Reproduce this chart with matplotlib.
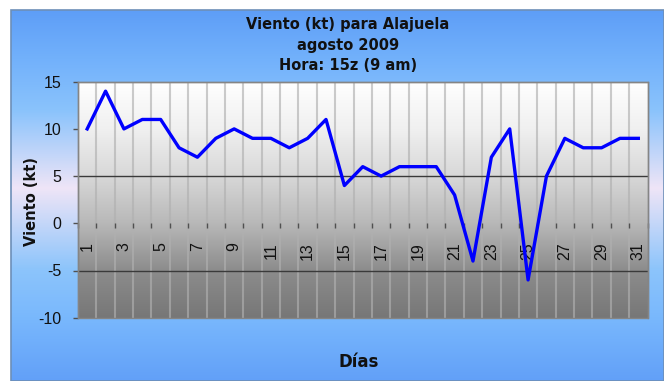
import numpy as np
import matplotlib
matplotlib.use("Agg")
import matplotlib.pyplot as plt
from matplotlib.colors import LinearSegmentedColormap
from matplotlib.patches import Rectangle

plt.rcParams["font.family"] = ["Liberation Sans", "DejaVu Sans"]

# Wind speed (kt) at 15z for each day of August 2009, Alajuela
days = list(range(1, 32))
wind = [10, 14, 10, 11, 11, 8, 7, 9, 10, 9, 9, 8, 9, 11, 4, 6, 5, 6, 6, 6,
        3, -4, 7, 10, -6, 5, 9, 8, 8, 9, 9]
day_labels = [str(d) for d in days if d % 2 == 1]
label_days = [d for d in days if d % 2 == 1]
y_ticks = [-10, -5, 0, 5, 10, 15]
title_lines = ["Viento (kt) para Alajuela", "agosto 2009", "Hora: 15z (9 am)"]

W, H = 664, 381
fig = plt.figure(figsize=(W / 100, H / 100), dpi=100)
fig.patch.set_facecolor("white")

# Chart-area background: vertical blue gradient, lighter in the middle
bg = fig.add_axes([11 / W, 0, 1 - 11 / W, (H - 10) / H])
bg_cmap = LinearSegmentedColormap.from_list(
    "chartbg",
    [(0.0, "#5e9ef7"), (0.13, "#72b1fb"), (0.27, "#8ac3fc"),
     (0.48, "#efe5f7"), (0.70, "#8cc4fb"), (0.83, "#79b8fd"), (1.0, "#62a0f8")])
grad = np.linspace(0, 1, 256).reshape(-1, 1)
bg.imshow(grad, cmap=bg_cmap, aspect="auto", extent=(0, 1, 0, 1), origin="upper")
bg.set_xlim(0, 1)
bg.set_ylim(0, 1)
bg.axis("off")
bg.add_patch(Rectangle((0, 0), 1, 1, transform=bg.transAxes, fill=False,
                       edgecolor="#6d8fb8", lw=1.2, clip_on=False))

# Plot area
left, right, top, bottom = 78, 647.5, 81.7, 317.7
ax = fig.add_axes([left / W, 1 - bottom / H, (right - left) / W, (bottom - top) / H])
ax.set_xlim(0.5, 31.5)
ax.set_ylim(-10, 15)

plot_cmap = LinearSegmentedColormap.from_list(
    "plotbg",
    [(0.0, "#ffffff"), (0.2, "#f0f0f0"), (0.4, "#d8d8d8"), (0.6, "#b8b8b8"),
     (0.8, "#8c8c8c"), (1.0, "#777777")])
ax.imshow(grad, cmap=plot_cmap, aspect="auto", extent=(0.5, 31.5, -10, 15),
          origin="upper", zorder=0)

# Vertical separators between days
bounds = np.arange(1.5, 31.5, 1.0)
ax.vlines(bounds, -10, 15, colors="#b0b0b0", lw=1.5, alpha=0.65, zorder=1)

# Horizontal gridlines
for yv in (5, -5):
    ax.axhline(yv, color="#3a3a3a", lw=1.0, zorder=2)

ax.plot(days, wind, color="#0000ff", lw=2.4, zorder=5, solid_joinstyle="round")

# Axes styling
for side in ("left", "top", "right"):
    ax.spines[side].set_color("#858585")
    ax.spines[side].set_linewidth(1.0)
ax.spines["bottom"].set_position(("data", 0))
ax.spines["bottom"].set_color("none")
ax.add_patch(Rectangle((0, 0), 1, 1, transform=ax.transAxes, fill=False,
                       edgecolor="#858585", lw=1.0, zorder=6, clip_on=False))

ax.set_yticks(y_ticks)
ax.set_yticklabels([str(v) for v in y_ticks])
ax.tick_params(axis="y", direction="out", length=3.8, width=1.0, color="#505050",
               labelsize=11.5, pad=8, labelcolor="#111111")

ax.set_xticks(label_days)
ax.set_xticklabels(day_labels)
ax.set_xticks(np.arange(0.5, 32.0, 1.0), minor=True)
ax.tick_params(axis="x", which="major", length=0, pad=13.5, labelsize=11.5,
               labelrotation=90, labelcolor="#111111")
ax.tick_params(axis="x", which="minor", direction="out", length=3.8, width=1.0,
               color="#505050")

# Titles and axis labels
bold_family = ["DejaVu Sans"]
for i, line in enumerate(title_lines):
    fig.text(348 / W, 1 - (25 + 20.3 * i) / H, line, ha="center", va="center",
             fontsize=10.5, fontweight="bold", color="#111111", family=bold_family)
fig.text(32 / W, 1 - 202 / H, "Viento (kt)", rotation=90, ha="center", va="center",
         fontsize=10.5, fontweight="bold", color="#111111", family=bold_family)
fig.text(359 / W, 1 - 362 / H, "Días", ha="center", va="center",
         fontsize=12, fontweight="bold", color="#111111", family=bold_family)

fig.savefig("out.png", dpi=100)
